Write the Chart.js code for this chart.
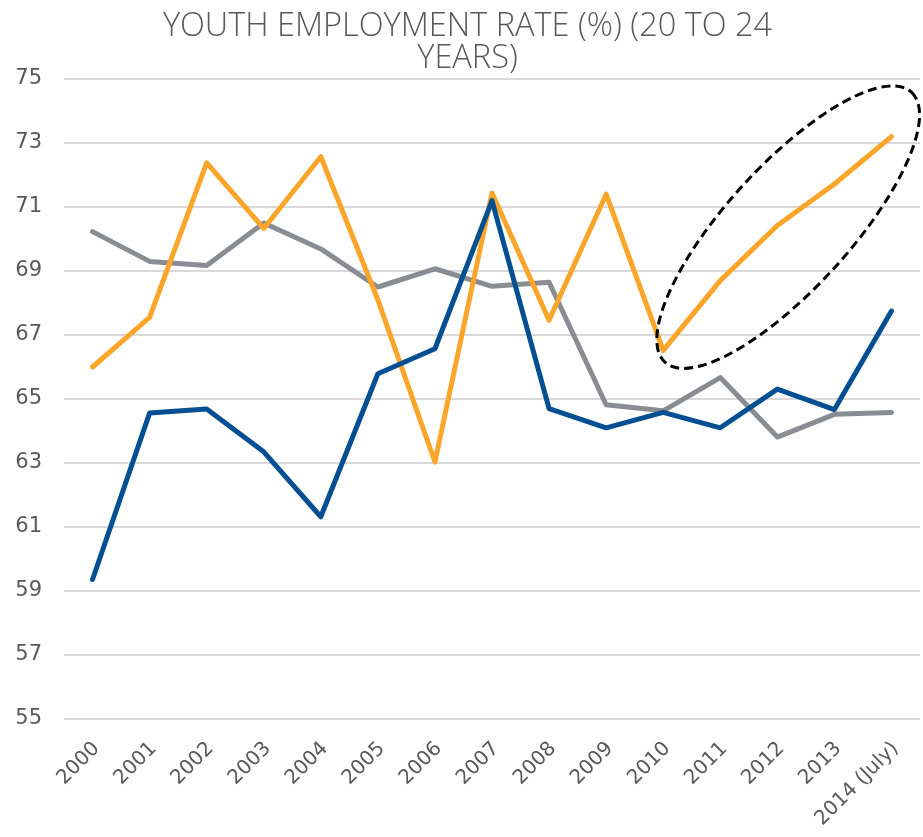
<!DOCTYPE html>
<html>
<head>
<meta charset="utf-8">
<script src="https://cdn.jsdelivr.net/npm/chart.js@4.4.1/dist/chart.umd.min.js"></script>
<style>
  html, body { margin: 0; padding: 0; background: #fff; }
  #wrap { width: 923px; height: 837px; }
</style>
</head>
<body>
<div id="wrap"><canvas id="chart"></canvas></div>
<script>
const years = ['2000', '2001', '2002', '2003', '2004', '2005', '2006', '2007', '2008', '2009', '2010', '2011', '2012', '2013', '2014 (July)'];
const orangeSeries = [66.0, 67.55, 72.38, 70.33, 72.57, 68.1, 63.03, 71.44, 67.46, 71.4, 66.52, 68.7, 70.42, 71.72, 73.2];
const blueSeries = [59.36, 64.56, 64.69, 63.35, 61.32, 65.79, 66.57, 71.2, 64.7, 64.1, 64.58, 64.1, 65.31, 64.67, 67.75];
const graySeries = [70.23, 69.3, 69.17, 70.5, 69.69, 68.5, 69.07, 68.52, 68.65, 64.82, 64.63, 65.67, 63.81, 64.52, 64.58];
const yTicks = [55, 57, 59, 61, 63, 65, 67, 69, 71, 73, 75];

// dashed ring around the 2010-2014 rise, ends given as [category index, value]
const ringEnds = [[10.03, 66.15], [14.35, 74.59]];
const ringRatio = 0.337;

const ringPlugin = {
  id: 'ring',
  afterDatasetsDraw(chart) {
    const { ctx, scales: { x, y } } = chart;
    const x1 = x.getPixelForValue(ringEnds[0][0]), y1 = y.getPixelForValue(ringEnds[0][1]);
    const x2 = x.getPixelForValue(ringEnds[1][0]), y2 = y.getPixelForValue(ringEnds[1][1]);
    const a = Math.hypot(x2 - x1, y2 - y1) / 2;
    ctx.save();
    ctx.beginPath();
    ctx.ellipse((x1 + x2) / 2, (y1 + y2) / 2, a, a * ringRatio, Math.atan2(y2 - y1, x2 - x1), 0, Math.PI * 2);
    ctx.setLineDash([9, 5]);
    ctx.lineWidth = 3;
    ctx.strokeStyle = '#000';
    ctx.stroke();
    ctx.restore();
  }
};

const line = (label, data, color) => ({
  label, data, borderColor: color, backgroundColor: color,
  borderWidth: 5, pointRadius: 0, tension: 0,
  borderCapStyle: 'round', borderJoinStyle: 'round'
});

new Chart(document.getElementById('chart'), {
  type: 'line',
  data: {
    labels: years,
    datasets: [
      line('Series 1', blueSeries, '#034F91'),
      line('Series 2', orangeSeries, '#FBA52A'),
      line('Series 3', graySeries, '#898C91')
    ]
  },
  options: {
    responsive: true,
    maintainAspectRatio: false,
    animation: false,
    layout: { padding: { top: 10, right: 3, left: 15, bottom: 0 } },
    plugins: {
      legend: { display: false },
      tooltip: { enabled: false },
      title: {
        display: true,
        text: ['YOUTH EMPLOYMENT RATE (%) (20 TO 24', 'YEARS)'],
        color: '#595959',
        font: { family: 'Open Sans', size: 32.5, weight: '300', lineHeight: 1.0 },
        padding: { top: 0, bottom: 4 }
      }
    },
    scales: {
      x: {
        offset: true,
        grid: { display: false },
        border: { display: false },
        // fixed band for the slanted year labels
        afterFit: axis => { axis.height = 118; },
        ticks: {
          color: '#595959', font: { family: 'DejaVu Sans', size: 20 },
          maxRotation: 45, minRotation: 45, padding: 10, labelOffset: 4, autoSkip: false
        }
      },
      y: {
        min: 55, max: 75,
        afterBuildTicks: axis => { axis.ticks = yTicks.map(v => ({ value: v })); },
        afterFit: axis => { axis.width = 49; },
        grid: { color: '#D9D9D9', lineWidth: 2, drawTicks: false },
        border: { display: false },
        ticks: { color: '#595959', font: { family: 'DejaVu Sans', size: 21 }, padding: 22 }
      }
    }
  },
  plugins: [ringPlugin]
});
</script>
</body>
</html>
